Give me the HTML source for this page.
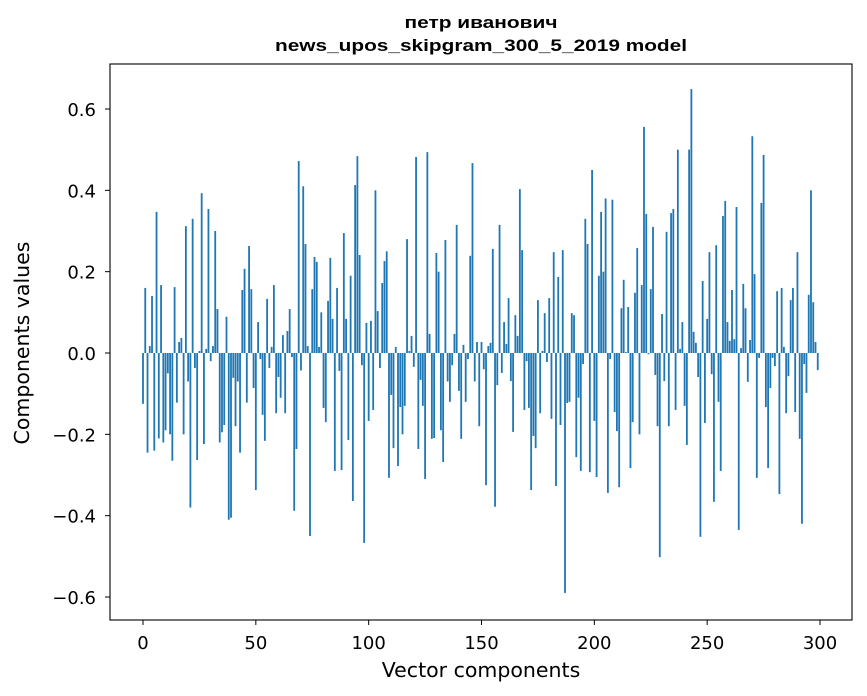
<!DOCTYPE html>
<html><head><meta charset="utf-8"><style>
body{margin:0;background:#fff;}
svg{display:block;font-family:"DejaVu Sans","Liberation Sans",sans-serif;}
.ttl{font-family:"Liberation Sans",sans-serif;font-weight:bold;font-size:17px;}
</style></head><body>
<svg id="chart" width="867" height="696">
<text class="ttl" x="481" y="28" text-anchor="middle" textLength="153" lengthAdjust="spacingAndGlyphs">петр иванович</text>
<text class="ttl" x="481" y="51" text-anchor="middle" textLength="412" lengthAdjust="spacingAndGlyphs">news_upos_skipgram_300_5_2019 model</text>
<g id="bars"></g>
<rect x="110" y="64" width="742" height="556" fill="none" stroke="#000" stroke-width="1.1"/>
<g id="xticks"></g>
<g id="yticks"></g>
<text x="481" y="677" text-anchor="middle" font-size="20.5">Vector components</text>
<text transform="translate(29,343) rotate(-90)" text-anchor="middle" font-size="20.5">Components values</text>
</svg>
<script>
const values = [-0.125,0.16,-0.245,0.017,0.14,-0.24,0.347,-0.21,0.167,-0.22,
-0.19,-0.05,-0.2,-0.265,0.162,-0.122,0.027,0.037,-0.2,0.312,
-0.07,-0.38,0.33,-0.037,-0.263,0.005,0.393,-0.224,0.01,0.354,
-0.02,0.017,0.3,0.108,-0.22,-0.195,-0.177,0.089,-0.41,-0.405,
-0.061,-0.18,-0.07,-0.245,0.155,0.207,-0.122,0.263,0.157,-0.086,
-0.337,0.076,-0.015,-0.152,-0.216,0.133,-0.037,0.015,0.167,-0.148,
-0.059,-0.11,0.044,-0.148,0.054,0.108,-0.01,-0.388,-0.236,0.472,
-0.043,0.41,0.268,0.017,-0.45,0.157,0.236,0.224,0.015,0.1,
-0.135,-0.17,0.128,0.234,0.084,-0.29,0.16,-0.044,-0.288,0.295,
0.084,-0.214,0.19,-0.364,0.413,0.484,0.241,-0.03,-0.467,0.074,
-0.167,0.079,-0.14,0.4,0.103,-0.037,0.172,0.226,0.25,-0.307,
-0.103,-0.234,0.015,-0.278,-0.133,-0.2,-0.13,0.28,0.005,0.042,
-0.034,0.482,-0.236,-0.066,-0.13,-0.31,0.494,0.047,-0.211,-0.209,
0.246,0.2,-0.19,-0.268,0.278,-0.07,-0.12,-0.03,0.047,0.315,
-0.093,-0.211,0.02,-0.12,-0.015,0.239,0.467,-0.07,0.027,-0.18,
0.027,-0.04,-0.325,0.017,0.025,0.256,-0.378,-0.079,0.315,-0.049,
0.076,0.022,0.135,-0.069,-0.194,0.093,0.042,0.403,0.253,-0.14,
-0.02,-0.135,-0.337,-0.204,-0.234,0.13,-0.148,0.005,0.098,-0.022,
0.135,-0.162,0.248,-0.327,0.187,-0.177,0.253,-0.59,-0.123,-0.12,
0.098,0.093,-0.256,-0.11,-0.29,-0.027,0.33,0.268,-0.293,0.45,
-0.167,-0.305,0.19,0.347,0.2,0.38,-0.344,-0.015,0.377,-0.145,
-0.192,-0.33,0.11,0.18,0.002,0.113,-0.283,-0.17,0.148,0.258,
-0.2,0.167,0.556,0.342,-0.003,0.157,0.31,-0.054,-0.18,-0.502,
0.096,-0.069,0.298,-0.18,0.344,0.354,-0.14,0.5,0.01,0.076,
-0.13,-0.226,0.5,0.649,0.052,0.025,-0.059,-0.452,0.177,-0.172,
0.084,0.248,-0.052,-0.366,0.265,-0.12,-0.29,0.337,0.374,0.076,
0.03,0.155,0.034,0.359,-0.435,0.012,0.17,0.11,-0.071,0.032,
0.533,0.194,-0.307,-0.012,0.369,0.487,-0.133,-0.283,-0.086,-0.012,
-0.032,0.152,-0.347,0.16,0.015,-0.148,-0.057,0.13,0.16,-0.145,
0.248,-0.211,-0.42,-0.027,-0.098,0.143,0.4,0.125,0.027,-0.042];
const xTickValues = [0,50,100,150,200,250,300];
const xTickLabels = ["0","50","100","150","200","250","300"];
const yTickValues = [-0.6,-0.4,-0.2,0.0,0.2,0.4,0.6];
const yTickLabels = ["\u22120.6","\u22120.4","\u22120.2","0.0","0.2","0.4","0.6"];

const NS="http://www.w3.org/2000/svg";
function xs(v){return 143 + (v)*2.2567;}
function ys(v){return 353 - v*406.67;}
const bars=document.getElementById('bars');
values.forEach((v,i)=>{
  const r=document.createElementNS(NS,'rect');
  const x0=xs(i-0.4), x1=xs(i+0.4);
  const y0=Math.min(ys(v),ys(0)), h=Math.abs(ys(v)-ys(0));
  r.setAttribute('x',x0);r.setAttribute('width',x1-x0);
  r.setAttribute('y',y0);r.setAttribute('height',Math.max(h,0.3));
  r.setAttribute('fill','#1f77b4');
  
  
  bars.appendChild(r);
});
const xt=document.getElementById('xticks');
xTickValues.forEach((v,i)=>{
  const l=document.createElementNS(NS,'line');
  l.setAttribute('x1',xs(v));l.setAttribute('x2',xs(v));
  l.setAttribute('y1',620);l.setAttribute('y2',625);l.setAttribute('stroke','#000');
  
  
  xt.appendChild(l);
  const t=document.createElementNS(NS,'text');
  t.setAttribute('x',xs(v));t.setAttribute('y',649);t.setAttribute('text-anchor','middle');
  t.setAttribute('font-size','18');t.textContent=xTickLabels[i];
  
  
  xt.appendChild(t);
});
const yt=document.getElementById('yticks');
yTickValues.forEach((v,i)=>{
  const l=document.createElementNS(NS,'line');
  l.setAttribute('x1',105);l.setAttribute('x2',110);
  l.setAttribute('y1',ys(v));l.setAttribute('y2',ys(v));l.setAttribute('stroke','#000');
  
  
  yt.appendChild(l);
  const t=document.createElementNS(NS,'text');
  t.setAttribute('x',96);t.setAttribute('y',ys(v)+7);t.setAttribute('text-anchor','end');
  t.setAttribute('font-size','18');t.textContent=yTickLabels[i];
  
  
  yt.appendChild(t);
});
</script>
</body></html>
